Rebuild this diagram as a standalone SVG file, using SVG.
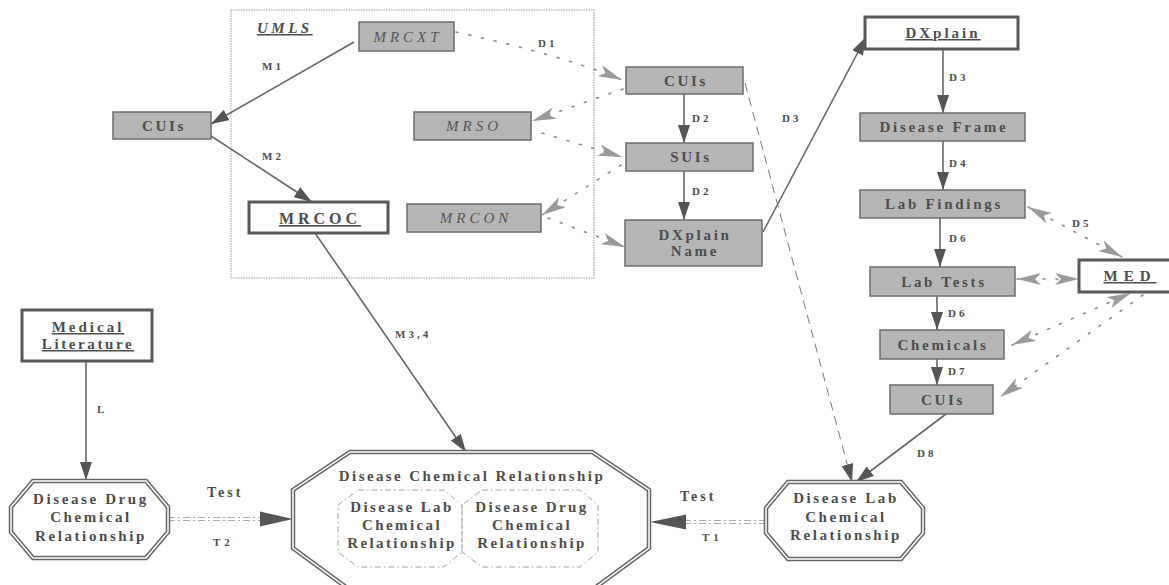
<svg xmlns="http://www.w3.org/2000/svg" width="1169" height="585" viewBox="0 0 1169 585">
<style>
text{font-family:"Liberation Serif","Times New Roman",serif;fill:#4d4d4d;font-weight:bold;}
.lbl{font-size:15px;letter-spacing:2.7px;text-anchor:middle;}
.it{font-size:15px;font-style:italic;font-weight:normal;letter-spacing:4px;text-anchor:middle;fill:#555;}
.el{font-size:11px;letter-spacing:3px;}
.tst{font-size:14px;letter-spacing:3px;}
.ul{text-decoration:underline;}
.gbox{fill:#b6b6b6;stroke:#6c6c6c;stroke-width:1.5;}
.wbox{fill:#fff;stroke:#585858;stroke-width:3;}
.oct{fill:#fff;stroke:#666;stroke-width:4.5;}
.octin{fill:none;stroke:#fff;stroke-width:1.5;}
.inner{fill:none;stroke:#a0a0a0;stroke-width:1;stroke-dasharray:6 3 1.5 3;}
.sol{fill:none;stroke:#666;stroke-width:1.6;marker-end:url(#ah);}
.dot{fill:none;stroke:#8a8a8a;stroke-width:1.6;stroke-dasharray:2 11;stroke-linecap:round;}
.dash{fill:none;stroke:#777;stroke-width:1;stroke-dasharray:9 6;marker-end:url(#ah);}
.tl{fill:none;stroke:#aaa;stroke-width:1.2;stroke-dasharray:7 3 2 3;}
</style>
<defs>
<marker id="ah" viewBox="0 0 18 12" refX="18" refY="6" markerWidth="18" markerHeight="12" markerUnits="userSpaceOnUse" orient="auto"><path d="M0,0 L18,6 L0,12 z" fill="#555"/></marker>
<marker id="ad" viewBox="0 0 24 12" refX="24" refY="6" markerWidth="24" markerHeight="12" markerUnits="userSpaceOnUse" orient="auto-start-reverse"><path d="M0,0 L24,6 L0,12 L6,6 z" fill="#9a9a9a"/></marker>
</defs>
<rect width="1169" height="585" fill="#fff"/>

<g id="umls">
<rect x="231" y="10" width="363" height="268" fill="none" stroke="#9a9a9a" stroke-width="1" stroke-dasharray="1.5 1"/>
<text x="257" y="33" class="ul" style="font-size:15px;font-style:italic;letter-spacing:3.5px;">UMLS</text>
</g>

<g id="connectors">
<line class="sol" x1="354" y1="42" x2="211" y2="124"/>
<line class="sol" x1="208" y1="134" x2="312" y2="202"/>
<line class="sol" x1="315" y1="233" x2="466" y2="452"/>
<line class="sol" x1="86" y1="361" x2="86" y2="480"/>
<line class="sol" x1="684" y1="94" x2="684" y2="143"/>
<line class="sol" x1="684" y1="171" x2="684" y2="220"/>
<line class="sol" x1="763" y1="232" x2="866" y2="37"/>
<line class="sol" x1="943" y1="49" x2="943" y2="113"/>
<line class="sol" x1="943" y1="141" x2="943" y2="190"/>
<line class="sol" x1="940" y1="218" x2="940" y2="267"/>
<line class="sol" x1="937" y1="296" x2="937" y2="330"/>
<line class="sol" x1="937" y1="359" x2="937" y2="385"/>
<line class="sol" x1="946" y1="414" x2="856" y2="482"/>
<line class="dash" x1="745" y1="83" x2="852" y2="482"/>
<path class="dot" d="M456,32 Q565,56 622,80" marker-end="url(#ad)"/>
<line class="dot" x1="623" y1="89" x2="532" y2="121" marker-end="url(#ad)"/>
<line class="dot" x1="542" y1="133" x2="622" y2="157" marker-end="url(#ad)"/>
<line class="dot" x1="621" y1="165" x2="542" y2="215" marker-end="url(#ad)"/>
<line class="dot" x1="548" y1="218" x2="625" y2="247" marker-end="url(#ad)"/>
<line class="dot" x1="1028" y1="207" x2="1122" y2="257" marker-start="url(#ad)" marker-end="url(#ad)"/>
<line class="dot" x1="1017" y1="279" x2="1079" y2="279" marker-start="url(#ad)" marker-end="url(#ad)"/>
<line class="dot" x1="1012" y1="345" x2="1131" y2="293" marker-start="url(#ad)" marker-end="url(#ad)"/>
<line class="dot" x1="1143" y1="295" x2="1000" y2="397" marker-end="url(#ad)"/>
<line class="tl" x1="168" y1="517.5" x2="262" y2="517.5"/>
<line class="tl" x1="168" y1="520.5" x2="262" y2="520.5"/>
<path d="M260,511.5 L293,519 L260,526.5 z" fill="#555"/>
<line class="tl" x1="766" y1="520.5" x2="684" y2="520.5"/>
<line class="tl" x1="766" y1="523.5" x2="684" y2="523.5"/>
<path d="M686,514.5 L650,522 L686,529.5 z" fill="#555"/>
<text x="262" y="70" class="el">M1</text>
<text x="262" y="160" class="el">M2</text>
<text x="395" y="338" class="el">M3,4</text>
<text x="538" y="47" class="el">D1</text>
<text x="692" y="122" class="el">D2</text>
<text x="692" y="195" class="el">D2</text>
<text x="782" y="122" class="el">D3</text>
<text x="949" y="81" class="el">D3</text>
<text x="949" y="167" class="el">D4</text>
<text x="1072" y="227" class="el">D5</text>
<text x="949" y="242" class="el">D6</text>
<text x="948" y="317" class="el">D6</text>
<text x="948" y="375" class="el">D7</text>
<text x="917" y="457" class="el">D8</text>
<text x="97" y="413" class="el">L</text>
<text x="207" y="497" class="tst">Test</text>
<text x="213" y="546" class="el" style="letter-spacing:4px">T2</text>
<text x="680" y="501" class="tst">Test</text>
<text x="702" y="541" class="el" style="letter-spacing:4px">T1</text>
</g>

<g id="mrcxt"><rect class="gbox" x="359" y="22" width="95" height="29"/><text x="408" y="42" class="it">MRCXT</text></g>
<g id="cuis-left"><rect class="gbox" x="113" y="112" width="98" height="27"/><text x="164" y="131" class="lbl">CUIs</text></g>
<g id="mrcoc"><rect class="wbox" x="249" y="202" width="139" height="31"/><text x="320" y="224" class="lbl ul" style="font-size:16px;letter-spacing:4px">MRCOC</text></g>
<g id="mrso"><rect class="gbox" x="414" y="112" width="117" height="28"/><text x="474" y="131" class="it">MRSO</text></g>
<g id="mrcon"><rect class="gbox" x="407" y="204" width="134" height="28"/><text x="476" y="223" class="it">MRCON</text></g>
<g id="cuis-mid"><rect class="gbox" x="626" y="67" width="117" height="27"/><text x="686" y="86" class="lbl">CUIs</text></g>
<g id="suis"><rect class="gbox" x="626" y="143" width="127" height="28"/><text x="691" y="162" class="lbl">SUIs</text></g>
<g id="dxplain-name"><rect class="gbox" x="625" y="220" width="137" height="46"/><text x="695" y="240" class="lbl">DXplain</text><text x="695" y="256" class="lbl">Name</text></g>
<g id="dxplain"><rect class="wbox" x="865" y="17" width="153" height="32"/><text x="943" y="38" class="lbl ul" style="letter-spacing:3px">DXplain</text></g>
<g id="disease-frame"><rect class="gbox" x="860" y="113" width="165" height="28"/><text x="944" y="132" class="lbl">Disease Frame</text></g>
<g id="lab-findings"><rect class="gbox" x="860" y="190" width="165" height="28"/><text x="944" y="209" class="lbl">Lab Findings</text></g>
<g id="lab-tests"><rect class="gbox" x="870" y="267" width="145" height="29"/><text x="944" y="287" class="lbl">Lab Tests</text></g>
<g id="med"><rect class="wbox" x="1079" y="260" width="100" height="32"/><text x="1130" y="281" class="lbl ul" style="letter-spacing:6px">MED</text></g>
<g id="chemicals"><rect class="gbox" x="880" y="330" width="124" height="29"/><text x="943" y="350" class="lbl">Chemicals</text></g>
<g id="cuis-right"><rect class="gbox" x="890" y="385" width="103" height="29"/><text x="943" y="405" class="lbl">CUIs</text></g>
<g id="medical-literature"><rect class="wbox" x="22" y="310" width="130" height="51"/><text x="88" y="332" class="lbl ul" style="letter-spacing:3px">Medical</text><text x="88" y="349" class="lbl ul" style="letter-spacing:2.6px">Literature</text></g>

<g id="disease-drug-chemical">
<polygon class="oct" points="33,481 146,481 168,507 168,532 146,558 33,558 11,532 11,507"/>
<polygon class="octin" points="33,481 146,481 168,507 168,532 146,558 33,558 11,532 11,507"/>
<text x="91" y="504" class="lbl" style="letter-spacing:2.6px">Disease Drug</text>
<text x="91" y="522" class="lbl" style="letter-spacing:2.6px">Chemical</text>
<text x="91" y="541" class="lbl" style="letter-spacing:2.6px">Relationship</text>
</g>

<g id="disease-lab-chemical">
<polygon class="oct" points="788,482 901,482 923,508 923,533 901,559 788,559 766,533 766,508"/>
<polygon class="octin" points="788,482 901,482 923,508 923,533 901,559 788,559 766,533 766,508"/>
<text x="846" y="503" class="lbl" style="letter-spacing:2.6px">Disease Lab</text>
<text x="846" y="522" class="lbl" style="letter-spacing:2.6px">Chemical</text>
<text x="846" y="540" class="lbl" style="letter-spacing:2.6px">Relationship</text>
</g>

<g id="disease-chemical">
<polygon class="oct" points="350,452 592,452 649,490 649,548 592,590 350,590 293,548 293,490"/>
<polygon class="octin" points="350,452 592,452 649,490 649,548 592,590 350,590 293,548 293,490"/>
<text x="472" y="481" class="lbl" style="letter-spacing:2.4px">Disease Chemical Relationship</text>
<polygon class="inner" points="358,490 444,490 462,505 462,552 444,567 358,567 338,552 338,505"/>
<polygon class="inner" points="482,490 580,490 598,505 598,552 580,567 482,567 462,552 462,505"/>
<text x="402" y="512" class="lbl" style="letter-spacing:2.4px">Disease Lab</text>
<text x="402" y="530" class="lbl" style="letter-spacing:2.4px">Chemical</text>
<text x="402" y="548" class="lbl" style="letter-spacing:2.4px">Relationship</text>
<text x="532" y="512" class="lbl" style="letter-spacing:2.4px">Disease Drug</text>
<text x="532" y="530" class="lbl" style="letter-spacing:2.4px">Chemical</text>
<text x="532" y="548" class="lbl" style="letter-spacing:2.4px">Relationship</text>
</g>
</svg>
